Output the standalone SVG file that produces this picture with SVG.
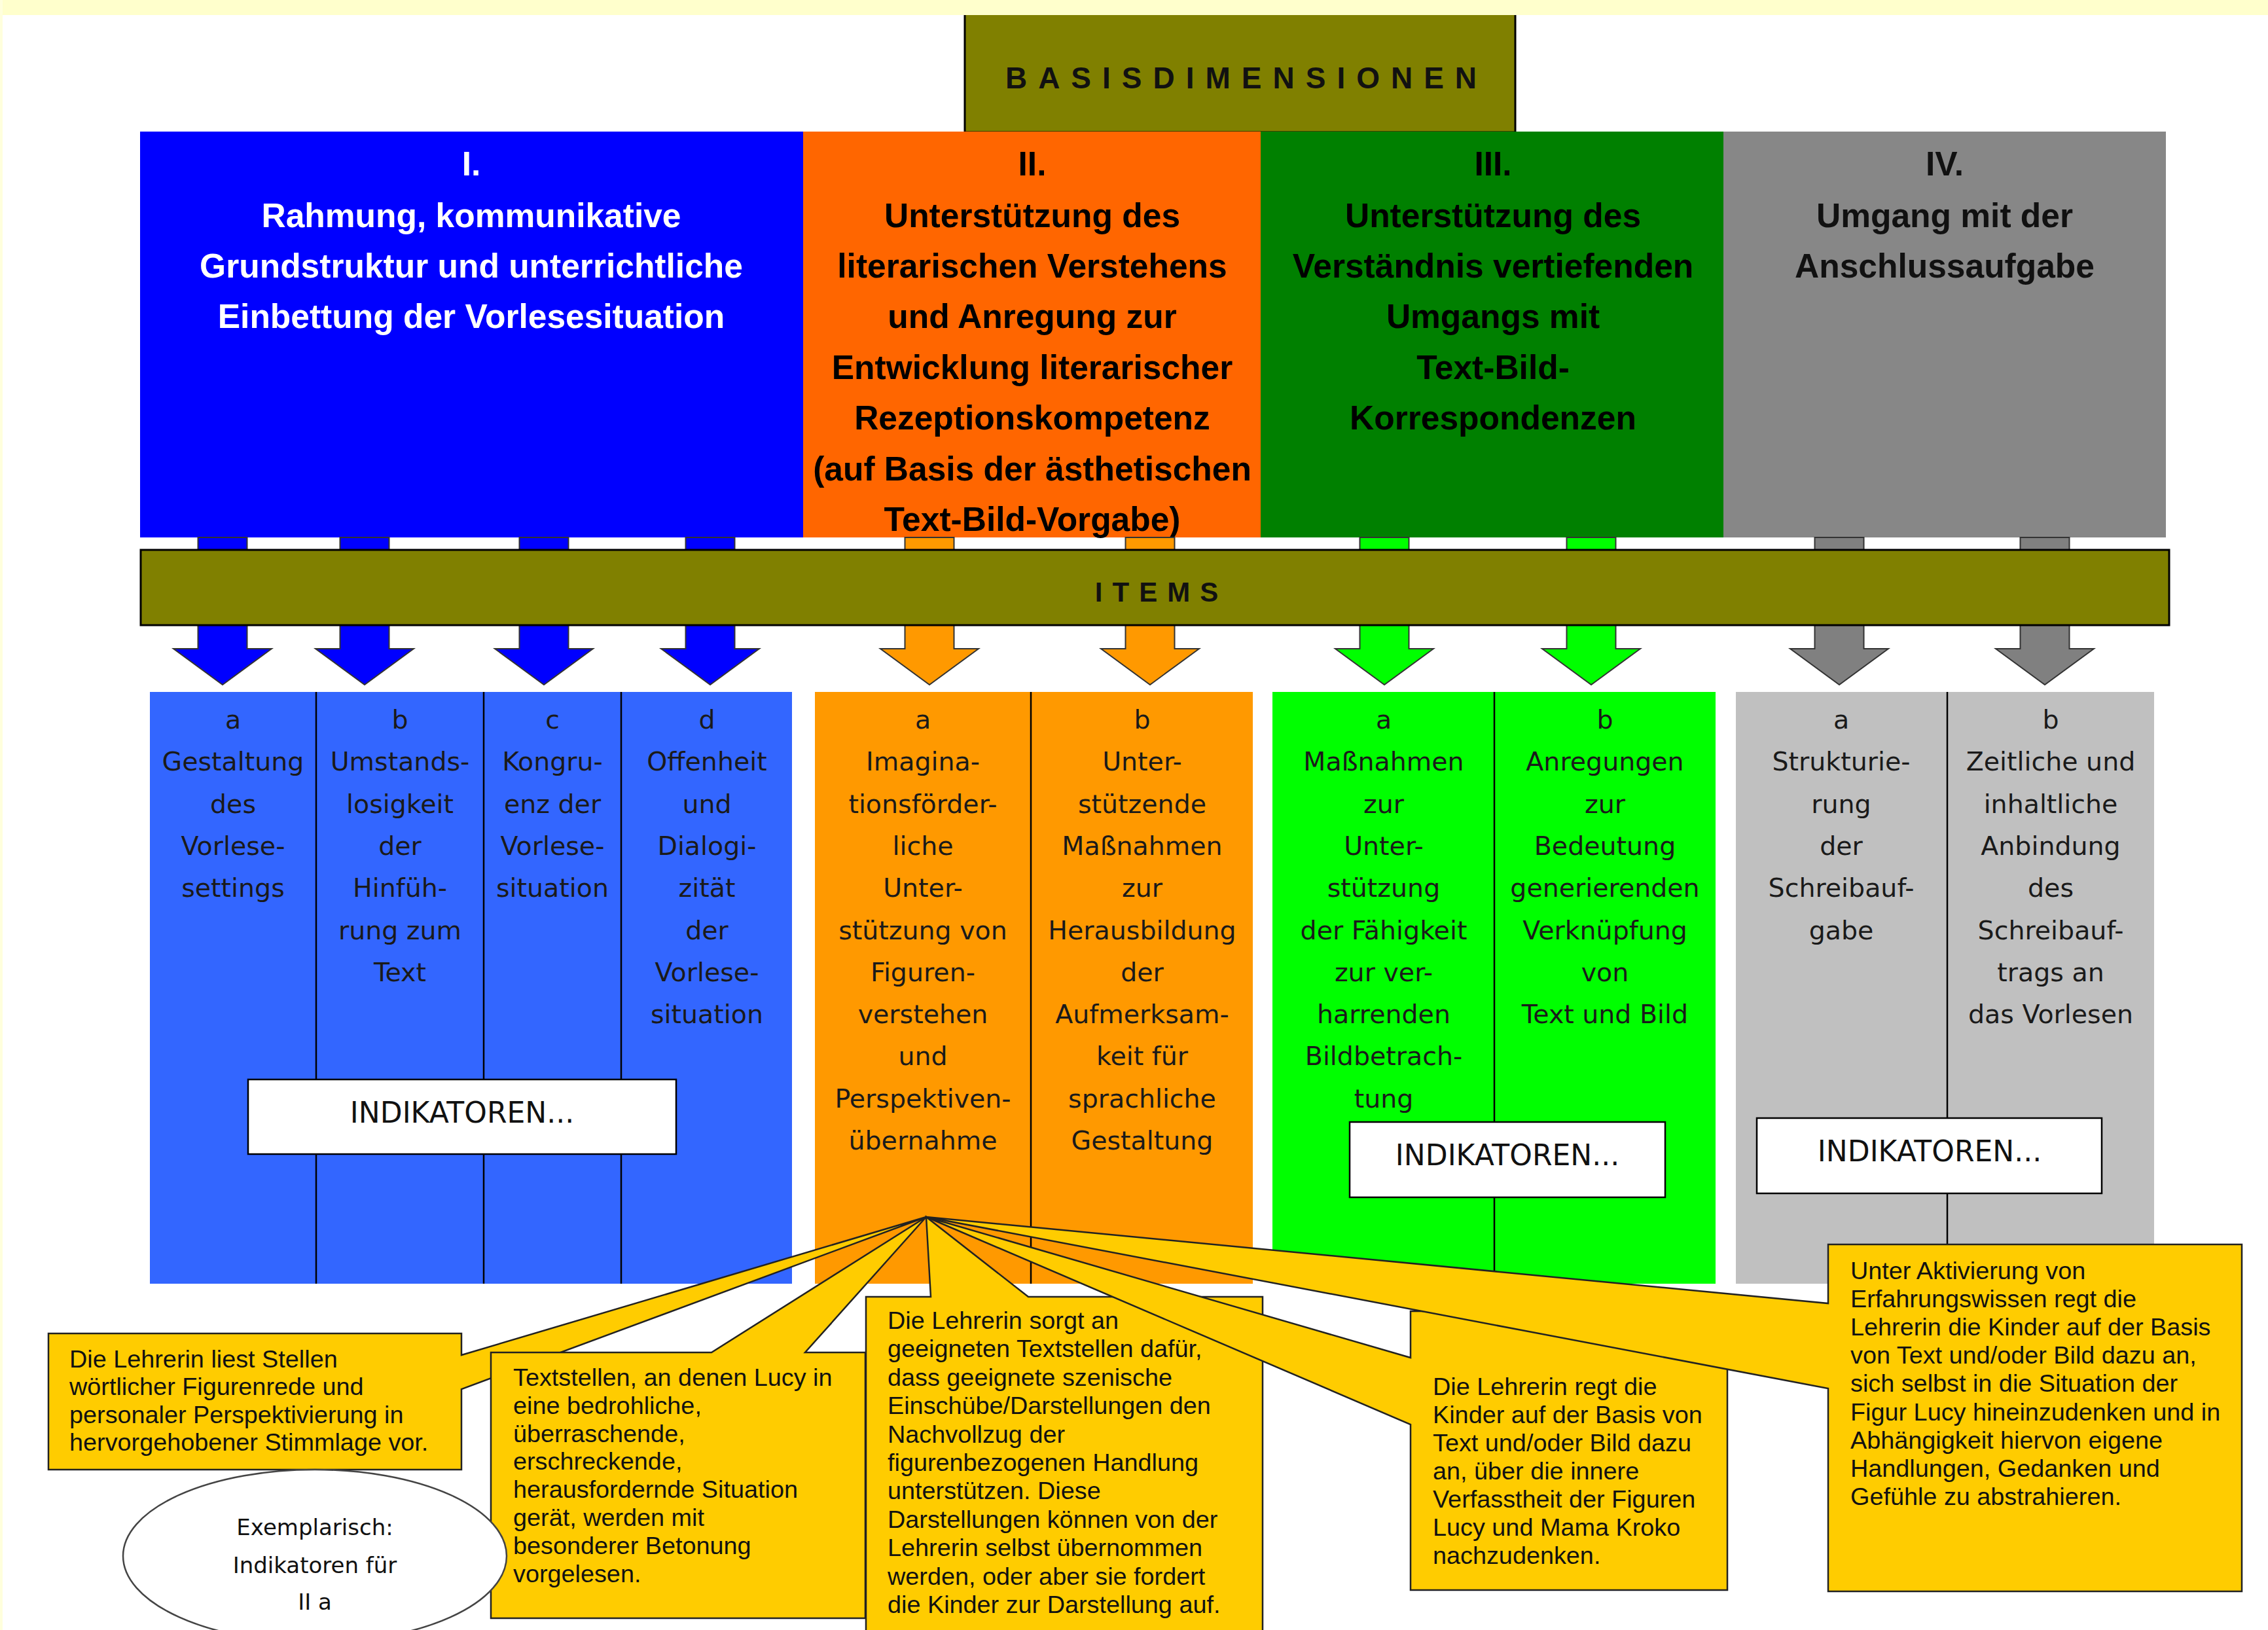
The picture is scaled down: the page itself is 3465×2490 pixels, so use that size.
<svg xmlns="http://www.w3.org/2000/svg" xmlns:xlink="http://www.w3.org/1999/xlink" width="3465" height="2490" viewBox="0 0 3465 2490">
<style>
.hdr{font-family:"Liberation Sans",Arial,sans-serif;font-weight:bold;font-size:51.5px;text-anchor:middle}
.item{font-family:"DejaVu Sans",Verdana,sans-serif;font-size:39.5px;text-anchor:middle;fill:#1a1a1a}
.ind{font-family:"DejaVu Sans",Verdana,sans-serif;font-size:44px;text-anchor:middle;fill:#111}
.call{font-family:"Liberation Sans",Arial,sans-serif;font-size:37.8px;fill:#111}
.ell{font-family:"DejaVu Sans",Verdana,sans-serif;font-size:34px;text-anchor:middle;fill:#111}
.title{font-family:"Liberation Sans",Arial,sans-serif;font-weight:bold;fill:#111}
.arr{stroke:#333;stroke-width:2}
.div{stroke:#000;stroke-width:2.5}
.indbox{fill:#fff;stroke:#000;stroke-width:2.5}
.callout{fill:#FFCC00;stroke:#222;stroke-width:2.5;stroke-linejoin:miter}
</style>
<defs>
<path id="arrow" d="M-37.5,821 V991 H-75 L0,1046 L75,991 H37.5 V821 Z"/>
</defs>
<rect x="0" y="0" width="3465" height="2490" fill="#ffffff"/>

<g id="basisdimensionen">
<rect x="1474" y="18" width="841" height="184" fill="#808000" stroke="#000" stroke-width="3"/>
<text class="title" x="1904.5" y="135" font-size="46" letter-spacing="17" text-anchor="middle">BASISDIMENSIONEN</text>
</g>
<rect x="0" y="0" width="3465" height="23" fill="#FFFFCC"/>
<rect x="0" y="0" width="4" height="2490" fill="#FFFFDD"/>

<g id="dim-I">
<rect x="214" y="201" width="1013" height="620" fill="#0000FF"/>
<text class="hdr" fill="#ffffff"><tspan x="720" y="268">I.</tspan><tspan x="720" y="347">Rahmung, kommunikative</tspan><tspan x="720" y="424">Grundstruktur und unterrichtliche</tspan><tspan x="720" y="501">Einbettung der Vorlesesituation</tspan></text>
</g>
<g id="dim-II">
<rect x="1227" y="201" width="699" height="620" fill="#FF6600"/>
<text class="hdr" fill="#000"><tspan x="1577" y="268">II.</tspan><tspan x="1577" y="347">Unterstützung des</tspan><tspan x="1577" y="424">literarischen Verstehens</tspan><tspan x="1577" y="501">und Anregung zur</tspan><tspan x="1577" y="579">Entwicklung literarischer</tspan><tspan x="1577" y="656">Rezeptionskompetenz</tspan><tspan x="1577" y="734">(auf Basis der ästhetischen</tspan><tspan x="1577" y="811">Text-Bild-Vorgabe)</tspan></text>
</g>
<g id="dim-III">
<rect x="1926" y="201" width="707" height="620" fill="#008000"/>
<text class="hdr" fill="#000"><tspan x="2281" y="268">III.</tspan><tspan x="2281" y="347">Unterstützung des</tspan><tspan x="2281" y="424">Verständnis vertiefenden</tspan><tspan x="2281" y="501">Umgangs mit</tspan><tspan x="2281" y="579">Text-Bild-</tspan><tspan x="2281" y="656">Korrespondenzen</tspan></text>
</g>
<g id="dim-IV">
<rect x="2633" y="201" width="676" height="620" fill="#878787"/>
<text class="hdr" fill="#111"><tspan x="2971" y="268">IV.</tspan><tspan x="2971" y="347">Umgang mit der</tspan><tspan x="2971" y="424">Anschlussaufgabe</tspan></text>
</g>

<g id="connectors">
<use xlink:href="#arrow" href="#arrow" class="arr" fill="#0000FF" transform="translate(340,0)"/>
<use xlink:href="#arrow" href="#arrow" class="arr" fill="#0000FF" transform="translate(557,0)"/>
<use xlink:href="#arrow" href="#arrow" class="arr" fill="#0000FF" transform="translate(831,0)"/>
<use xlink:href="#arrow" href="#arrow" class="arr" fill="#0000FF" transform="translate(1085,0)"/>
<use xlink:href="#arrow" href="#arrow" class="arr" fill="#FF9900" transform="translate(1420,0)"/>
<use xlink:href="#arrow" href="#arrow" class="arr" fill="#FF9900" transform="translate(1757,0)"/>
<use xlink:href="#arrow" href="#arrow" class="arr" fill="#00FF00" transform="translate(2115,0)"/>
<use xlink:href="#arrow" href="#arrow" class="arr" fill="#00FF00" transform="translate(2431,0)"/>
<use xlink:href="#arrow" href="#arrow" class="arr" fill="#808080" transform="translate(2810,0)"/>
<use xlink:href="#arrow" href="#arrow" class="arr" fill="#808080" transform="translate(3124,0)"/>
</g>

<g id="items-bar">
<rect x="215" y="840" width="3099" height="115" fill="#808000" stroke="#000" stroke-width="3"/>
<text class="title" x="1774.5" y="919" font-size="42" letter-spacing="15" text-anchor="middle">ITEMS</text>
</g>

<g id="items-I">
<rect x="229" y="1057" width="981" height="904" fill="#3366FF"/>
<line class="div" x1="483" y1="1057" x2="483" y2="1961"/>
<line class="div" x1="739" y1="1057" x2="739" y2="1961"/>
<line class="div" x1="949" y1="1057" x2="949" y2="1961"/>
<text class="item"><tspan x="356" y="1113">a</tspan><tspan x="356" y="1177.3">Gestaltung</tspan><tspan x="356" y="1241.6">des</tspan><tspan x="356" y="1305.9">Vorlese-</tspan><tspan x="356" y="1370.2">settings</tspan></text>
<text class="item"><tspan x="611" y="1113">b</tspan><tspan x="611" y="1177.3">Umstands-</tspan><tspan x="611" y="1241.6">losigkeit</tspan><tspan x="611" y="1305.9">der</tspan><tspan x="611" y="1370.2">Hinfüh-</tspan><tspan x="611" y="1434.5">rung zum</tspan><tspan x="611" y="1498.8">Text</tspan></text>
<text class="item"><tspan x="844" y="1113">c</tspan><tspan x="844" y="1177.3">Kongru-</tspan><tspan x="844" y="1241.6">enz der</tspan><tspan x="844" y="1305.9">Vorlese-</tspan><tspan x="844" y="1370.2">situation</tspan></text>
<text class="item"><tspan x="1080" y="1113">d</tspan><tspan x="1080" y="1177.3">Offenheit</tspan><tspan x="1080" y="1241.6">und</tspan><tspan x="1080" y="1305.9">Dialogi-</tspan><tspan x="1080" y="1370.2">zität</tspan><tspan x="1080" y="1434.5">der</tspan><tspan x="1080" y="1498.8">Vorlese-</tspan><tspan x="1080" y="1563.1">situation</tspan></text>
<rect class="indbox" x="379" y="1649" width="654" height="114"/>
<text class="ind" x="706" y="1715">INDIKATOREN...</text>
</g>

<g id="items-II">
<rect x="1245" y="1057" width="669" height="904" fill="#FF9900"/>
<line class="div" x1="1575" y1="1057" x2="1575" y2="1961"/>
<text class="item"><tspan x="1410" y="1113">a</tspan><tspan x="1410" y="1177.3">Imagina-</tspan><tspan x="1410" y="1241.6">tionsförder-</tspan><tspan x="1410" y="1305.9">liche</tspan><tspan x="1410" y="1370.2">Unter-</tspan><tspan x="1410" y="1434.5">stützung von</tspan><tspan x="1410" y="1498.8">Figuren-</tspan><tspan x="1410" y="1563.1">verstehen</tspan><tspan x="1410" y="1627.4">und</tspan><tspan x="1410" y="1691.7">Perspektiven-</tspan><tspan x="1410" y="1756">übernahme</tspan></text>
<text class="item"><tspan x="1745" y="1113">b</tspan><tspan x="1745" y="1177.3">Unter-</tspan><tspan x="1745" y="1241.6">stützende</tspan><tspan x="1745" y="1305.9">Maßnahmen</tspan><tspan x="1745" y="1370.2">zur</tspan><tspan x="1745" y="1434.5">Herausbildung</tspan><tspan x="1745" y="1498.8">der</tspan><tspan x="1745" y="1563.1">Aufmerksam-</tspan><tspan x="1745" y="1627.4">keit für</tspan><tspan x="1745" y="1691.7">sprachliche</tspan><tspan x="1745" y="1756">Gestaltung</tspan></text>
</g>

<g id="items-III">
<rect x="1944" y="1057" width="677" height="904" fill="#00FF00"/>
<line class="div" x1="2283" y1="1057" x2="2283" y2="1961"/>
<text class="item"><tspan x="2114" y="1113">a</tspan><tspan x="2114" y="1177.3">Maßnahmen</tspan><tspan x="2114" y="1241.6">zur</tspan><tspan x="2114" y="1305.9">Unter-</tspan><tspan x="2114" y="1370.2">stützung</tspan><tspan x="2114" y="1434.5">der Fähigkeit</tspan><tspan x="2114" y="1498.8">zur ver-</tspan><tspan x="2114" y="1563.1">harrenden</tspan><tspan x="2114" y="1627.4">Bildbetrach-</tspan><tspan x="2114" y="1691.7">tung</tspan></text>
<text class="item"><tspan x="2452" y="1113">b</tspan><tspan x="2452" y="1177.3">Anregungen</tspan><tspan x="2452" y="1241.6">zur</tspan><tspan x="2452" y="1305.9">Bedeutung</tspan><tspan x="2452" y="1370.2">generierenden</tspan><tspan x="2452" y="1434.5">Verknüpfung</tspan><tspan x="2452" y="1498.8">von</tspan><tspan x="2452" y="1563.1">Text und Bild</tspan></text>
<rect class="indbox" x="2062" y="1714" width="482" height="115"/>
<text class="ind" x="2303" y="1780">INDIKATOREN...</text>
</g>

<g id="items-IV">
<rect x="2652" y="1057" width="639" height="904" fill="#C0C0C0"/>
<line class="div" x1="2975" y1="1057" x2="2975" y2="1961"/>
<text class="item"><tspan x="2813" y="1113">a</tspan><tspan x="2813" y="1177.3">Strukturie-</tspan><tspan x="2813" y="1241.6">rung</tspan><tspan x="2813" y="1305.9">der</tspan><tspan x="2813" y="1370.2">Schreibauf-</tspan><tspan x="2813" y="1434.5">gabe</tspan></text>
<text class="item"><tspan x="3133" y="1113">b</tspan><tspan x="3133" y="1177.3">Zeitliche und</tspan><tspan x="3133" y="1241.6">inhaltliche</tspan><tspan x="3133" y="1305.9">Anbindung</tspan><tspan x="3133" y="1370.2">des</tspan><tspan x="3133" y="1434.5">Schreibauf-</tspan><tspan x="3133" y="1498.8">trags an</tspan><tspan x="3133" y="1563.1">das Vorlesen</tspan></text>
<rect class="indbox" x="2684" y="1708" width="527" height="115"/>
<text class="ind" x="2948" y="1774">INDIKATOREN...</text>
</g>

<g id="callout-1">
<path class="callout" d="M74,2037 H705 V2070 L1415,1859 L705,2122 V2245 H74 Z"/>
<text class="call"><tspan x="106" y="2089">Die Lehrerin liest Stellen</tspan><tspan x="106" y="2131.3">wörtlicher Figurenrede und</tspan><tspan x="106" y="2173.6">personaler Perspektivierung in</tspan><tspan x="106" y="2215.9">hervorgehobener Stimmlage vor.</tspan></text>
</g>
<g id="callout-2">
<path class="callout" d="M750,2066 H1087 L1415,1859 L1230,2066 H1322 V2472 H750 Z"/>
<text class="call"><tspan x="784" y="2117">Textstellen, an denen Lucy in</tspan><tspan x="784" y="2159.8">eine bedrohliche,</tspan><tspan x="784" y="2202.6">überraschende,</tspan><tspan x="784" y="2245.4">erschreckende,</tspan><tspan x="784" y="2288.2">herausfordernde Situation</tspan><tspan x="784" y="2331">gerät, werden mit</tspan><tspan x="784" y="2373.8">besonderer Betonung</tspan><tspan x="784" y="2416.6">vorgelesen.</tspan></text>
</g>
<g id="callout-3">
<path class="callout" d="M1323,1981 H1422 L1415,1859 L1571,1981 H1929 V2510 H1323 Z"/>
<text class="call"><tspan x="1356" y="2030">Die Lehrerin sorgt  an</tspan><tspan x="1356" y="2073.4">geeigneten Textstellen dafür,</tspan><tspan x="1356" y="2116.8">dass geeignete szenische</tspan><tspan x="1356" y="2160.2">Einschübe/Darstellungen den</tspan><tspan x="1356" y="2203.6">Nachvollzug der</tspan><tspan x="1356" y="2247">figurenbezogenen Handlung</tspan><tspan x="1356" y="2290.4">unterstützen. Diese</tspan><tspan x="1356" y="2333.8">Darstellungen können von der</tspan><tspan x="1356" y="2377.2">Lehrerin selbst übernommen</tspan><tspan x="1356" y="2420.6">werden, oder aber sie fordert</tspan><tspan x="1356" y="2464">die Kinder zur Darstellung auf.</tspan></text>
</g>
<g id="callout-4">
<path class="callout" d="M2155,2003 H2639 V2429 H2155 V2176 L1415,1859 L2155,2074 Z"/>
<text class="call"><tspan x="2189" y="2131">Die Lehrerin regt die</tspan><tspan x="2189" y="2174">Kinder auf der Basis von</tspan><tspan x="2189" y="2217">Text und/oder Bild dazu</tspan><tspan x="2189" y="2260">an, über die innere</tspan><tspan x="2189" y="2303">Verfasstheit der Figuren</tspan><tspan x="2189" y="2346">Lucy und Mama Kroko</tspan><tspan x="2189" y="2389">nachzudenken.</tspan></text>
</g>
<g id="callout-5">
<path class="callout" d="M2793,1901 H3425 V2431 H2793 V2121 L1415,1859 L2793,1991 Z"/>
<text class="call"><tspan x="2827" y="1954">Unter Aktivierung von</tspan><tspan x="2827" y="1997.1">Erfahrungswissen regt die</tspan><tspan x="2827" y="2040.2">Lehrerin die Kinder auf der Basis</tspan><tspan x="2827" y="2083.3">von Text und/oder Bild dazu an,</tspan><tspan x="2827" y="2126.4">sich selbst in die Situation der</tspan><tspan x="2827" y="2169.5">Figur Lucy hineinzudenken und in</tspan><tspan x="2827" y="2212.6">Abhängigkeit hiervon eigene</tspan><tspan x="2827" y="2255.7">Handlungen, Gedanken und</tspan><tspan x="2827" y="2298.8">Gefühle zu abstrahieren.</tspan></text>
</g>

<g id="exemplarisch">
<ellipse cx="481" cy="2377" rx="293" ry="132" fill="#ffffff" stroke="#444" stroke-width="2.5"/>
<text class="ell"><tspan x="481" y="2345">Exemplarisch:</tspan><tspan x="481" y="2403">Indikatoren für</tspan><tspan x="481" y="2459">II a</tspan></text>
</g>
</svg>
